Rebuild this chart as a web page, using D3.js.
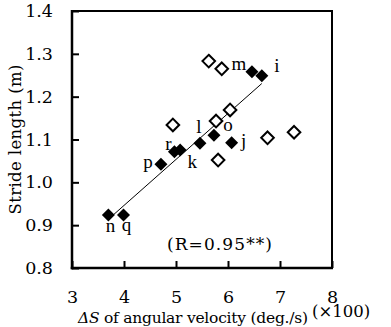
<!DOCTYPE html>
<html>
<head>
<meta charset="utf-8">
<script src="https://cdn.jsdelivr.net/npm/d3@7"></script>
<style>
  html, body { margin: 0; padding: 0; background: #fff; }
  svg { display: block; }
  text { font-family: "Liberation Serif", "DejaVu Serif", serif; fill: #000; }
</style>
</head>
<body>
<svg id="chart" width="391" height="327"></svg>
<script>
// ---- data ----
const filledNames = ["n", "q", "p", "r", "k", "l", "o", "j", "m", "i"];
const filledX = [3.70, 3.99, 4.71, 4.97, 5.08, 5.46, 5.73, 6.07, 6.46, 6.65];
const filledY = [0.924, 0.924, 1.042, 1.0715, 1.0755, 1.091, 1.110, 1.0925, 1.258, 1.249];
const openX = [5.63, 5.88, 6.04, 5.77, 6.76, 7.27, 5.81, 4.94];
const openY = [1.283, 1.265, 1.169, 1.143, 1.104, 1.117, 1.052, 1.134];
const xTicks = [3, 4, 5, 6, 7, 8];
const yTicks = [0.8, 0.9, 1.0, 1.1, 1.2, 1.3, 1.4];
const rText = "(R=0.95**)";

// ---- layout ----
const svg = d3.select("#chart");
const L = 72, R = 332, T = 11, B = 268;
const x = d3.scaleLinear().domain([3, 8]).range([L, R]);
const y = d3.scaleLinear().domain([0.8, 1.4]).range([B, T]);

// label offsets (layout only)
const labelOffsets = {
  n: [2, 17], q: [3, 16], p: [-13, 4], r: [-6, -2], k: [12, 18],
  l: [-1, -10], o: [14, -4], j: [12, 4], m: [-13, -2], i: [15, -4]
};

// frame
svg.append("line").attr("x1", L).attr("x2", R).attr("y1", T).attr("y2", T).attr("stroke", "#000").attr("stroke-width", 2);
svg.append("line").attr("x1", R).attr("x2", R).attr("y1", T - 1).attr("y2", B).attr("stroke", "#000").attr("stroke-width", 2);

// axes
const yAxis = d3.axisLeft(y).tickValues(yTicks).tickFormat(d3.format(".1f")).tickSizeInner(-7).tickSizeOuter(0).tickPadding(19);
const gy = svg.append("g").attr("transform", `translate(${L},0)`).call(yAxis);
const xAxis = d3.axisBottom(x).tickValues(xTicks).tickFormat(d3.format("d")).tickSizeInner(-7).tickSizeOuter(0).tickPadding(23);
const gx = svg.append("g").attr("transform", `translate(0,${B})`).call(xAxis);

[gx, gy].forEach(g => {
  g.select(".domain").attr("stroke", "#000").attr("stroke-width", 2.5);
  g.selectAll(".tick line").attr("stroke", "#000").attr("stroke-width", 2);
  g.selectAll(".tick text").style("font-family", '"DejaVu Serif", serif').style("font-size", "17.5px").attr("fill", "#000");
});
gx.select(".domain").attr("d", `M${L - 1.25},0H${R + 1}`);
gy.select(".domain").attr("d", `M0,${T - 1}V${B + 1.25}`);

// regression line from filled data
const mx = d3.mean(filledX), my = d3.mean(filledY);
let sxy = 0, sxx = 0;
filledX.forEach((v, i) => { sxy += (v - mx) * (filledY[i] - my); sxx += (v - mx) * (v - mx); });
const slope = sxy / sxx, icpt = my - slope * mx;
const x0 = d3.min(filledX), x1 = d3.max(filledX);
svg.append("line")
  .attr("x1", x(x0)).attr("y1", y(icpt + slope * x0))
  .attr("x2", x(x1)).attr("y2", y(icpt + slope * x1))
  .attr("stroke", "#000").attr("stroke-width", 1);

const diamond = r => `M0,${-r}L${r},0L0,${r}L${-r},0Z`;

// open diamonds
svg.append("g").selectAll("path").data(openX.map((v, i) => [v, openY[i]])).join("path")
  .attr("d", diamond(6.3))
  .attr("transform", d => `translate(${x(d[0])},${y(d[1])})`)
  .attr("fill", "#fff").attr("stroke", "#000").attr("stroke-width", 2);

// filled diamonds
const filled = filledX.map((v, i) => ({ x: v, y: filledY[i], name: filledNames[i] }));
svg.append("g").selectAll("path").data(filled).join("path")
  .attr("d", diamond(6.5))
  .attr("transform", d => `translate(${x(d.x)},${y(d.y)})`)
  .attr("fill", "#000");

// point labels
svg.append("g").selectAll("text").data(filled).join("text")
  .attr("x", d => x(d.x) + labelOffsets[d.name][0])
  .attr("y", d => y(d.y) + labelOffsets[d.name][1])
  .attr("text-anchor", "middle")
  .style("font-size", "19px")
  .text(d => d.name);

// R text
svg.append("text").attr("x", 167).attr("y", 250)
  .attr("textLength", 105).attr("lengthAdjust", "spacing")
  .style("font-family", '"DejaVu Serif", serif').style("font-size", "17px").text(rText);

// y title
svg.append("text")
  .attr("transform", `translate(21,${(T + B) / 2 + 75}) rotate(-90)`)
  .attr("textLength", 150).attr("lengthAdjust", "spacing")
  .style("font-family", '"DejaVu Serif", serif')
  .style("font-size", "16.5px")
  .text("Stride length (m)");

// x title
const xt = svg.append("text").attr("x", 78).attr("y", 323)
  .attr("textLength", 230).attr("lengthAdjust", "spacing")
  .style("font-family", '"DejaVu Serif", serif').style("font-size", "15.5px");
xt.append("tspan").style("font-style", "italic").text("ΔS");
xt.append("tspan").text(" of angular velocity (deg./s)");
svg.append("text").attr("x", 312).attr("y", 317)
  .style("font-family", '"DejaVu Serif", serif').style("font-size", "16.5px").text("(×100)");
</script>
</body>
</html>
